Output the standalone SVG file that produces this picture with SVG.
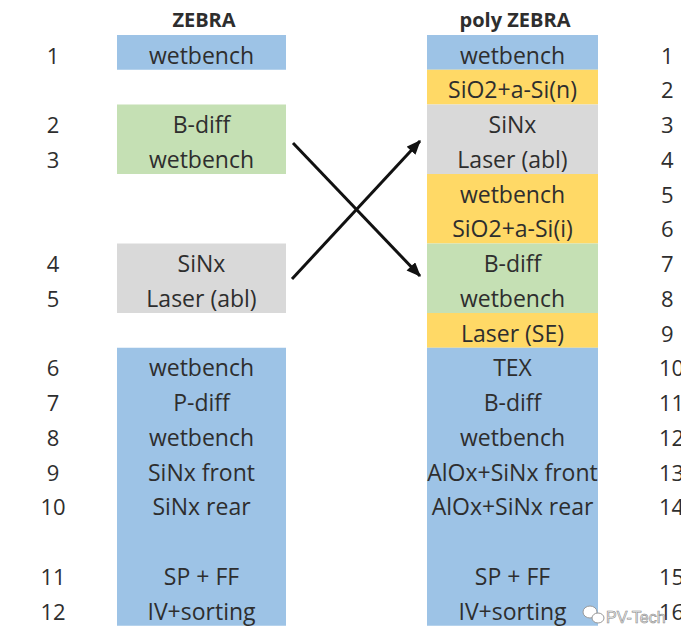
<svg xmlns="http://www.w3.org/2000/svg" width="681" height="631" viewBox="0 0 681 631">
<style>
.t{font-family:"Open Sans","Liberation Sans",sans-serif;font-size:23px;fill:#2e2e2e;text-anchor:middle}
.n{font-family:"Open Sans","Liberation Sans",sans-serif;font-size:22px;fill:#2e2e2e}
.nl{text-anchor:middle}
.h{font-family:"Open Sans","Liberation Sans",sans-serif;font-size:20px;font-weight:bold;fill:#2e2e2e;text-anchor:middle}
.blue{fill:#9DC3E6}.yel{fill:#FFD966}.grey{fill:#D9D9D9}.green{fill:#C5E0B4}
.arr{stroke:#111;stroke-width:3;fill:none;marker-end:url(#ah)}
</style>
<defs>
<marker id="ah" viewBox="0 0 12 10" refX="11" refY="5" markerWidth="5" markerHeight="4" orient="auto" markerUnits="strokeWidth">
<path d="M0,0 L12,5 L0,10 z" fill="#111"/>
</marker>
</defs>
<rect width="681" height="631" fill="#fff"/>
<text class="h" x="204" y="27">ZEBRA</text>
<text class="h" x="515" y="27">poly ZEBRA</text>

<g id="zebra">
<g id="z-wetbench1"><rect class="blue" x="117" y="35" width="169" height="34.75"/><text class="t" x="201.5" y="63.5">wetbench</text></g>
<g id="z-green"><rect class="green" x="117" y="104.5" width="169" height="69.5"/><text class="t" x="201.5" y="133">B-diff</text><text class="t" x="201.5" y="167.75">wetbench</text></g>
<g id="z-grey"><rect class="grey" x="117" y="243.5" width="169" height="69.5"/><text class="t" x="201.5" y="272">SiNx</text><text class="t" x="201.5" y="306.75">Laser (abl)</text></g>
<g id="z-blue"><rect class="blue" x="117" y="347.75" width="169" height="278"/>
<text class="t" x="201.5" y="376.25">wetbench</text>
<text class="t" x="201.5" y="411">P-diff</text>
<text class="t" x="201.5" y="445.75">wetbench</text>
<text class="t" x="201.5" y="480.5">SiNx front</text>
<text class="t" x="201.5" y="515.25">SiNx rear</text>
<text class="t" x="201.5" y="584.75">SP + FF</text>
<text class="t" x="201.5" y="619.5">IV+sorting</text></g>
<g id="z-nums" class="n nl">
<text x="53" y="63.5">1</text>
<text x="53" y="133">2</text>
<text x="53" y="167.75">3</text>
<text x="53" y="272">4</text>
<text x="53" y="306.75">5</text>
<text x="53" y="376.25">6</text>
<text x="53" y="411">7</text>
<text x="53" y="445.75">8</text>
<text x="53" y="480.5">9</text>
<text x="53" y="515.25">10</text>
<text x="53" y="584.75">11</text>
<text x="53" y="619.5">12</text>
</g>
</g>

<g id="polyzebra">
<g id="p1"><rect class="blue" x="427" y="35" width="171" height="34.75"/><text class="t" x="512.5" y="63.5">wetbench</text></g>
<g id="p2"><rect class="yel" x="427" y="69.75" width="171" height="34.75"/><text class="t" x="512.5" y="98.25">SiO2+a-Si(n)</text></g>
<g id="p3"><rect class="grey" x="427" y="104.5" width="171" height="69.5"/><text class="t" x="512.5" y="133">SiNx</text><text class="t" x="512.5" y="167.75">Laser (abl)</text></g>
<g id="p5"><rect class="yel" x="427" y="174" width="171" height="69.5"/><text class="t" x="512.5" y="202.5">wetbench</text><text class="t" x="512.5" y="237.25">SiO2+a-Si(i)</text></g>
<g id="p7"><rect class="green" x="427" y="243.5" width="171" height="69.5"/><text class="t" x="512.5" y="272">B-diff</text><text class="t" x="512.5" y="306.75">wetbench</text></g>
<g id="p9"><rect class="yel" x="427" y="313" width="171" height="34.75"/><text class="t" x="512.5" y="341.5">Laser (SE)</text></g>
<g id="p10"><rect class="blue" x="427" y="347.75" width="171" height="278"/>
<text class="t" x="512.5" y="376.25">TEX</text>
<text class="t" x="512.5" y="411">B-diff</text>
<text class="t" x="512.5" y="445.75">wetbench</text>
<text class="t" x="512.5" y="480.5">AlOx+SiNx front</text>
<text class="t" x="512.5" y="515.25">AlOx+SiNx rear</text>
<text class="t" x="512.5" y="584.75">SP + FF</text>
<text class="t" x="512.5" y="619.5">IV+sorting</text></g>
<g id="p-nums" class="n">
<text x="661" y="63.5">1</text>
<text x="661" y="98.25">2</text>
<text x="661" y="133">3</text>
<text x="661" y="167.75">4</text>
<text x="661" y="202.5">5</text>
<text x="661" y="237.25">6</text>
<text x="661" y="272">7</text>
<text x="661" y="306.75">8</text>
<text x="661" y="341.5">9</text>
<text x="659" y="376.25">10</text>
<text x="659" y="411">11</text>
<text x="659" y="445.75">12</text>
<text x="659" y="480.5">13</text>
<text x="659" y="515.25">14</text>
<text x="659" y="584.75">15</text>
<text x="659" y="619.5">16</text>
</g>
</g>

<g id="connectors">
<line class="arr" x1="293" y1="143" x2="420" y2="276"/>
<line class="arr" x1="292" y1="279" x2="420" y2="141"/>
</g>

<g id="watermark">
<ellipse cx="590" cy="612" rx="7" ry="6" fill="#fff" stroke="#999" stroke-width="1"/>
<ellipse cx="598" cy="618" rx="6" ry="5" fill="#fff" stroke="#999" stroke-width="1"/>
<text x="606" y="623" font-family="Liberation Sans, sans-serif" font-size="16" fill="#f2f2f2" stroke="#888" stroke-width="0.6">PV-Tech</text>
</g>
</svg>
